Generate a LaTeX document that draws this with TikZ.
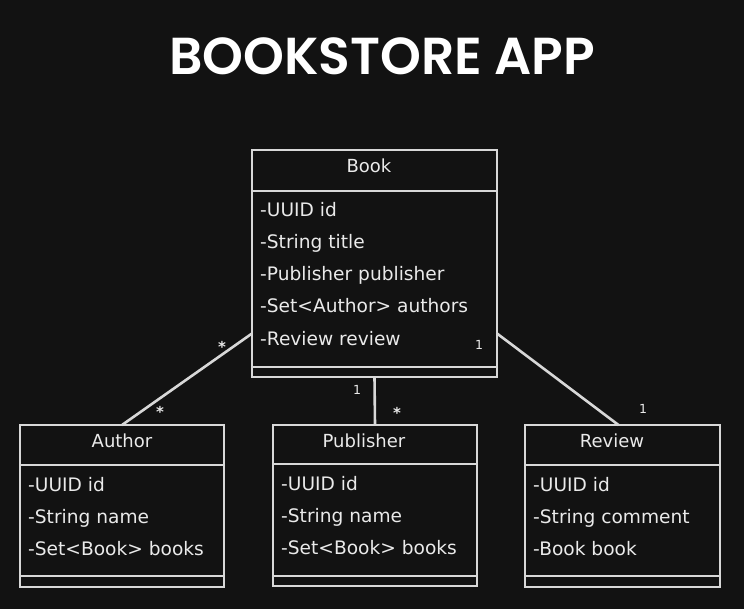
\documentclass[tikz,border=0pt]{standalone}
\usepackage{fontspec}
\setmainfont{DejaVu Sans}
\newfontfamily\titlefont{Poppins SemiBold}
\definecolor{pagebg}{HTML}{121212}
\definecolor{inkline}{HTML}{D8D8D8}
\definecolor{inktext}{HTML}{EAEAEA}
\tikzset{
  classbox/.style={draw=inkline, line width=1.8pt, fill=pagebg, inner sep=0pt, outer sep=0pt, anchor=north west},
  sepline/.style={draw=inkline, line width=1.6pt},
  assoc/.style={draw=inkline, line width=2.6pt},
  classname/.style={text=inktext, font=\fontsize{18}{21}\selectfont, anchor=base, inner sep=0pt},
  attr/.style={text=inktext, font=\fontsize{18.6}{21}\selectfont, anchor=base west, inner sep=0pt},
  mult/.style={text=inktext, font=\fontsize{12.5}{14}\selectfont, inner sep=0pt},
  star/.style={text=inktext, font=\bfseries\fontsize{15}{16}\selectfont, inner sep=0pt},
}
\begin{document}
\begin{tikzpicture}[x=1pt, y=-1pt]
  % page
  \fill[pagebg] (0,0) rectangle (744,609);
  \useasboundingbox (0,0) rectangle (744,609);

  % title
  \node[text=white, font=\titlefont\fontsize{52}{60}\selectfont, anchor=base, inner sep=0pt] (title) at (382,75) {BOOKSTORE APP};

  % class boxes
  \node[classbox, minimum width=245pt, minimum height=227pt] (book) at (252,150) {};
  \node[classbox, minimum width=204pt, minimum height=162pt] (author) at (20,425) {};
  \node[classbox, minimum width=204pt, minimum height=161pt] (publisher) at (273,425) {};
  \node[classbox, minimum width=195pt, minimum height=162pt] (review) at (525,425) {};

  % compartment separators
  \foreach \b/\h/\m in {book/41/217, author/40/151, publisher/39/151, review/40/151}{
    \draw[sepline] ([yshift=-\h pt]\b.north west) -- ([yshift=-\h pt]\b.north east);
    \draw[sepline] ([yshift=-\m pt]\b.north west) -- ([yshift=-\m pt]\b.north east);
  }

  % class names
  \node[classname] (bookname) at (369,173) {Book};
  \node[classname] (authorname) at (122,447) {Author};
  \node[classname] (publishername) at (364,447) {Publisher};
  \node[classname] (reviewname) at (612,447) {Review};

  % Book attributes
  \node[attr] (b1) at (260,217) {-UUID id};
  \node[attr] (b2) at (260,249) {-String title};
  \node[attr] (b3) at (260,281) {-Publisher publisher};
  \node[attr] (b4) at (260,313) {-Set<Author> authors};
  \node[attr] (b5) at (260,345) {-Review review};

  % Author attributes
  \node[attr] (a1) at (28,491) {-UUID id};
  \node[attr] (a2) at (28,523) {-String name};
  \node[attr] (a3) at (28,555) {-Set<Book> books};

  % Publisher attributes
  \node[attr] (p1) at (281,490) {-UUID id};
  \node[attr] (p2) at (281,522) {-String name};
  \node[attr] (p3) at (281,554) {-Set<Book> books};

  % Review attributes
  \node[attr] (r1) at (533,491) {-UUID id};
  \node[attr] (r2) at (533,523) {-String comment};
  \node[attr] (r3) at (533,555) {-Book book};

  % associations
  \draw[assoc] ([yshift=-70pt]book.west) -- (author.north);
  \draw[assoc] (book.south) -- (publisher.north);
  \draw[assoc] ([yshift=-70pt]book.east) -- ([xshift=-4pt]review.north);

  % multiplicities
  \node[star] (m1) at (222,347) {*};
  \node[star] (m2) at (160,412) {*};
  \node[mult] (m3) at (357,390) {1};
  \node[star] (m4) at (397,413) {*};
  \node[mult] (m5) at (479,345) {1};
  \node[mult] (m6) at (643,409) {1};
\end{tikzpicture}
\end{document}
